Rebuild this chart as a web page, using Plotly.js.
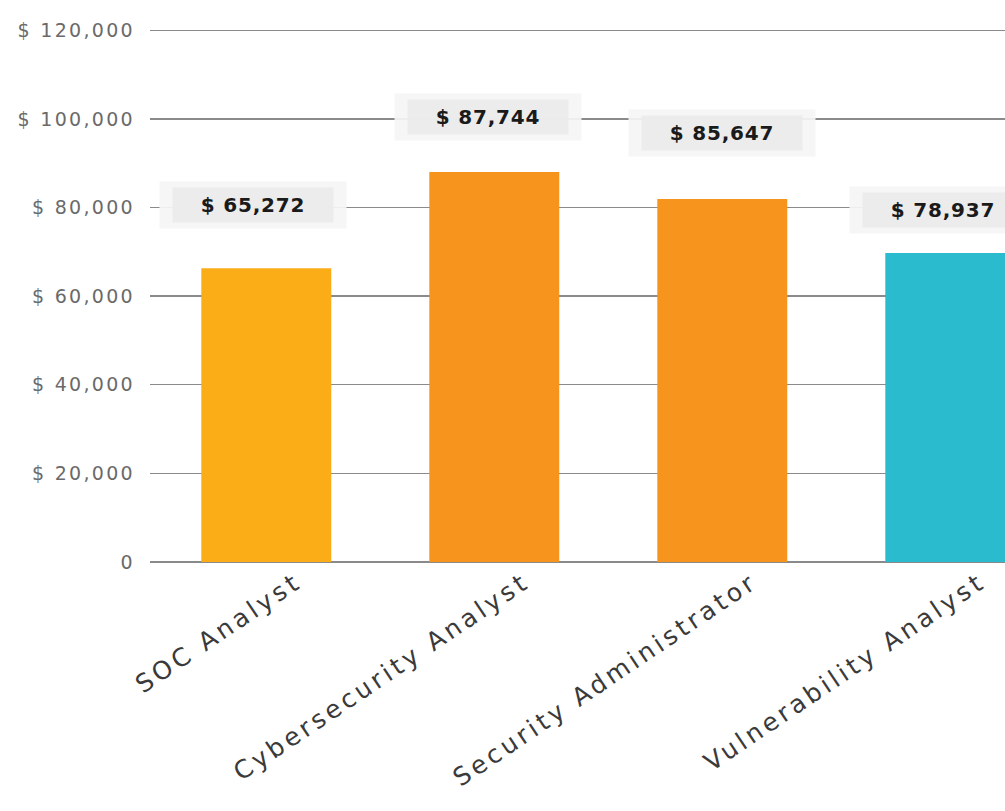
<!DOCTYPE html>
<html>
<head>
<meta charset="utf-8">
<script src="https://cdn.plot.ly/plotly-3.0.1.min.js"></script>
<style>
html,body{margin:0;padding:0;background:#fff;}
#chart{width:1005px;height:811px;}
#chart .xtick text{letter-spacing:3.6px;}
#chart .ytick text{letter-spacing:2.3px;}
#chart .annotation-text{letter-spacing:0.8px;}
</style>
</head>
<body>
<div id="chart"></div>
<script>
// Data
const categories = ["SOC Analyst", "Cybersecurity Analyst", "Security Administrator", "Vulnerability Analyst"];
const barHeights = [66300, 88000, 81900, 69700];          // bar heights as drawn
const labelTexts = ["$ 65,272", "$ 87,744", "$ 85,647", "$ 78,937"]; // value labels as printed
const yTickVals = [0, 20000, 40000, 60000, 80000, 100000, 120000];
const yTickText = ["0", "$ 20,000", "$ 40,000", "$ 60,000", "$ 80,000", "$ 100,000", "$ 120,000"];

// Styles
const barColors = ["#FBAD18", "#F7941D", "#F7941D", "#2BBBCF"];
const labelShiftY = [45, 37, 48, 25];
const labelShiftX = [-13, -6, 0, -7];

const trace = {
  type: "bar",
  x: categories,
  y: barHeights,
  marker: {color: barColors, line: {width: 0}},
  hoverinfo: "skip",
  width: 0.57
};

const annotations = [];
categories.forEach((c, i) => {
  // soft outer glow
  annotations.push({
    x: c, y: barHeights[i], xref: "x", yref: "y",
    text: " ", showarrow: false, yanchor: "bottom",
    yshift: labelShiftY[i] - 6, xshift: labelShiftX[i],
    width: 186, height: 46, bgcolor: "rgba(245,245,245,0.92)", borderpad: 0,
    font: {size: 18}
  });
  annotations.push({
    x: c, y: barHeights[i], xref: "x", yref: "y",
    text: "<b>" + labelTexts[i] + "</b>",
    showarrow: false, yanchor: "bottom",
    yshift: labelShiftY[i], xshift: labelShiftX[i],
    width: 160, height: 34, bgcolor: "rgba(235,235,235,0.95)", borderpad: 0,
    font: {family: "DejaVu Sans, sans-serif", size: 20, color: "#1a1a1a"}
  });
});

const layout = {
  width: 1005, height: 811,
  margin: {l: 150, r: 0, t: 28, b: 249},
  paper_bgcolor: "#fff", plot_bgcolor: "#fff",
  showlegend: false,
  bargap: 0.43,
  xaxis: {
    range: [-0.51, 3.24],
    tickangle: -34,
    tickfont: {family: "DejaVu Sans, sans-serif", size: 25, color: "#3a3a3a"},
    ticklabelshift: 30,
    showgrid: false, zeroline: false, showline: false, ticks: "",
    fixedrange: true
  },
  yaxis: {
    range: [0, 120500],
    tickvals: yTickVals, ticktext: yTickText,
    tickfont: {family: "DejaVu Sans, sans-serif", size: 19, color: "#6a6a6a"},
    showgrid: true, gridcolor: "#8a8a8a", gridwidth: 1.4,
    zeroline: true, zerolinecolor: "#8a8a8a", zerolinewidth: 1.4,
    showline: false, ticks: "", ticklabelstandoff: 14,
    fixedrange: true
  },
  annotations: annotations
};

Plotly.newPlot("chart", [trace], layout, {displayModeBar: false, staticPlot: true});
</script>
</body>
</html>
